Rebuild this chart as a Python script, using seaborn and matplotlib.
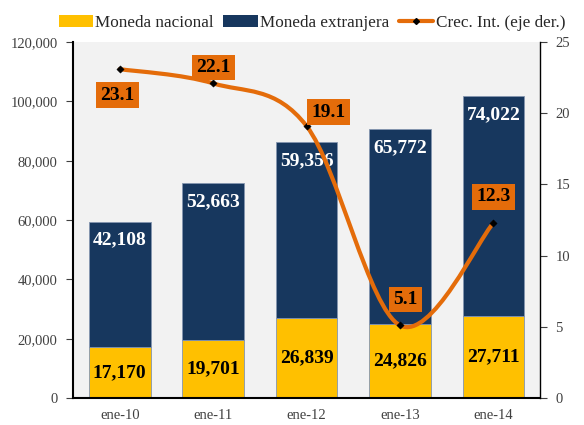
import numpy as np
import matplotlib
matplotlib.use("Agg")
import matplotlib.pyplot as plt
import seaborn as sns
from matplotlib.path import Path
from matplotlib.patches import PathPatch
from matplotlib.lines import Line2D
from matplotlib.patches import Patch

# =====================================================
# DATA
# =====================================================

categories = ["ene-10", "ene-11", "ene-12", "ene-13", "ene-14"]
moneda_nacional = [17170, 19701, 26839, 24826, 27711]
moneda_extranjera = [42108, 52663, 59356, 65772, 74022]
crec_int = [23.1, 22.1, 19.1, 5.1, 12.3]

# label offsets (pixels) for the growth labels
label_offsets = [(-2, -26), (0, 16), (22, 14), (5, 26), (0, 26)]

# =====================================================
# STYLE
# =====================================================

YELLOW = "#FFC000"
NAVY = "#17375E"
ORANGE = "#E46C0A"

sns.set_style("white")
plt.rcParams["font.family"] = ["Liberation Serif", "DejaVu Serif"]

fig = plt.figure(figsize=(5.84, 4.25), dpi=100)
ax = fig.add_axes([0.125, 0.0635, 0.8, 0.8375])
ax.set_facecolor("#F2F2F2")

x = np.arange(len(categories))

sns.barplot(x=categories, y=moneda_nacional, color=YELLOW, width=0.66,
            saturation=1, edgecolor="#8496B0", linewidth=0.6, ax=ax,
            zorder=2)
sns.barplot(x=categories, y=moneda_extranjera, bottom=moneda_nacional,
            color=NAVY, width=0.66, saturation=1, edgecolor="#8496B0",
            linewidth=0.6, ax=ax, zorder=2)

ax.set_ylim(0, 120000)
ax.set_xlim(-0.5, len(categories) - 0.5)
ax.set_yticks(np.arange(0, 120001, 20000))
ax.set_yticklabels([f"{v:,.0f}" for v in np.arange(0, 120001, 20000)])
ax.tick_params(axis="y", direction="out", length=5, width=0.8,
               labelsize=10.5, labelcolor="#404040", color="#404040", pad=6)
ax.tick_params(axis="x", length=0, labelsize=10.5, labelcolor="#404040",
               pad=8)

for s in ["top", "right"]:
    ax.spines[s].set_visible(False)
for s in ["left", "bottom"]:
    ax.spines[s].set_color("black")
    ax.spines[s].set_linewidth(1.5)

# bar labels
for i in range(len(categories)):
    ax.text(x[i], moneda_nacional[i] / 2, f"{moneda_nacional[i]:,}",
            ha="center", va="center", fontsize=14, fontweight="bold",
            color="black", zorder=5)
    top = moneda_nacional[i] + moneda_extranjera[i]
    ax.annotate(f"{moneda_extranjera[i]:,}", (x[i], top),
                xytext=(0, -18), textcoords="offset pixels",
                ha="center", va="center", fontsize=14, fontweight="bold",
                color="white", zorder=5)

# =====================================================
# SECONDARY AXIS - smoothed line
# =====================================================

ax2 = ax.twinx()
ax2.set_ylim(0, 25)
ax2.set_yticks(range(0, 26, 5))
ax2.tick_params(axis="y", direction="out", length=5, width=0.8,
                labelsize=10.5, labelcolor="#404040", color="#404040", pad=6)
for s in ["top", "left", "bottom"]:
    ax2.spines[s].set_visible(False)
ax2.spines["right"].set_color("black")
ax2.spines["right"].set_linewidth(1.0)

# Catmull-Rom style bezier (Excel smoothed line)
pts = np.column_stack([x, crec_int]).astype(float)
verts = [tuple(pts[0])]
codes = [Path.MOVETO]
n = len(pts)
for i in range(n - 1):
    p0 = pts[i - 1] if i > 0 else pts[i]
    p1 = pts[i]
    p2 = pts[i + 1]
    p3 = pts[i + 2] if i + 2 < n else pts[i + 1]
    c1 = p1 + (p2 - p0) / 6
    c2 = p2 - (p3 - p1) / 6
    verts += [tuple(c1), tuple(c2), tuple(p2)]
    codes += [Path.CURVE4] * 3
ax2.add_patch(PathPatch(Path(verts, codes), facecolor="none",
                        edgecolor=ORANGE, linewidth=3, zorder=3,
                        capstyle="round"))
sns.scatterplot(x=x, y=crec_int, marker="D", color="black", s=14,
                edgecolor="black", ax=ax2, zorder=4)

for i, v in enumerate(crec_int):
    ax2.annotate(f"{v:.1f}", (x[i], v), xytext=label_offsets[i],
                 textcoords="offset pixels", ha="center", va="center",
                 fontsize=14, fontweight="bold", color="black", zorder=6,
                 bbox=dict(boxstyle="square,pad=0.22", facecolor=ORANGE,
                           edgecolor="none"))

# =====================================================
# LEGEND
# =====================================================

handles = [
    Patch(facecolor=YELLOW, edgecolor="none"),
    Patch(facecolor=NAVY, edgecolor="none"),
    Line2D([0], [0], color=ORANGE, linewidth=3, marker="D",
           markerfacecolor="black", markeredgecolor="black", markersize=3),
]
fig.legend(handles, ["Moneda nacional", "Moneda extranjera",
                     "Crec. Int. (eje der.)"],
           loc="upper center", bbox_to_anchor=(0.534, 1.0), ncol=3,
           frameon=False, fontsize=12.3, handlelength=2.0,
           handleheight=0.7, handletextpad=0.15, columnspacing=0.55)

fig.savefig("out.png", dpi=100)
